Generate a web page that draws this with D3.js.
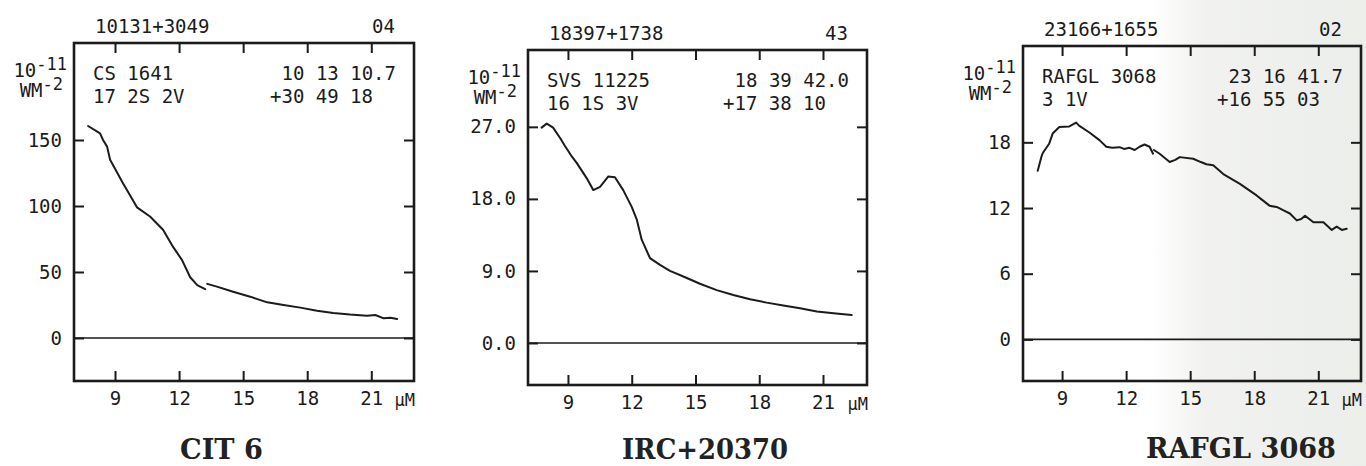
<!DOCTYPE html>
<html>
<head>
<meta charset="utf-8">
<script src="https://cdn.jsdelivr.net/npm/d3@7"></script>
<style>
  html, body { margin: 0; padding: 0; background: #ffffff; }
  svg { display: block; }
</style>
</head>
<body>
<svg id="chart" width="1366" height="466"></svg>
<script>
// ---------------- data ----------------
const titles = ["CIT 6", "IRC+20370", "RAFGL 3068"];
const iraIds = ["10131+3049", "18397+1738", "23166+1655"];
const lrsCodes = ["04", "43", "02"];
const altNames = ["CS 1641", "SVS 11225", "RAFGL 3068"];
const qualLines = ["17 2S 2V", "16 1S 3V", "3 1V"];
const raLabels = ["10 13 10.7", "18 39 42.0", "23 16 41.7"];
const decLabels = ["+30 49 18", "+17 38 10", "+16 55 03"];
const xTickValues = [9, 12, 15, 18, 21];
const xUnit = "\u00b5M";

const yTicksCit6 = [0, 50, 100, 150];
const yTickLabelsCit6 = ["0", "50", "100", "150"];
const yTicksIrc = [0, 9, 18, 27];
const yTickLabelsIrc = ["0.0", "9.0", "18.0", "27.0"];
const yTicksRafgl = [0, 6, 12, 18];
const yTickLabelsRafgl = ["0", "6", "12", "18"];

// wavelength (micron) and flux (1e-11 W m^-2), null = gap in the trace
const cit6Wave = [7.74, 8.30, 8.44, 8.63, 8.77, 9.38, 10.03, 10.64, 11.25, 11.72, 12.14, 12.52, 12.85, 13.22, 13.27,
                  13.32, 13.77, 14.53, 15.33, 16.13, 16.89, 17.68, 18.46, 19.22, 20.00, 20.80, 21.19, 21.58, 21.90, 22.21];
const cit6Flux = [160.6, 155, 150, 145, 135, 117, 99, 92, 82, 69, 59, 46, 40, 37, null,
                  41, 38.9, 35, 31.3, 27, 25, 23, 20.7, 19, 17.8, 16.9, 17.4, 14.9, 15.4, 14.4];

const ircWave = [7.76, 8.0, 8.3, 8.63, 8.86, 9.18, 9.41, 9.88, 10.19, 10.51, 10.90, 11.21, 11.6, 12.0, 12.24, 12.47,
                 12.86, 13.33, 13.8, 14.43, 15.21, 16.0, 16.78, 17.57, 18.35, 19.13, 19.92, 20.71, 21.49, 22.35];
const ircFlux = [26.9, 27.4, 26.9, 25.6, 24.6, 23.3, 22.5, 20.6, 19.1, 19.5, 20.8, 20.7, 19.1, 17.0, 15.4, 12.9,
                 10.6, 9.75, 9.0, 8.3, 7.4, 6.6, 6.0, 5.46, 5.04, 4.67, 4.33, 3.92, 3.71, 3.5];

const rafglWave = [7.86, 8.02, 8.09, 8.40, 8.56, 8.87, 9.34, 9.66, 9.81, 10.28, 10.75, 11.07, 11.35, 11.69, 11.9,
                   12.16, 12.4, 12.63, 12.86, 13.1, 13.26, 13.28, 13.3, 13.57, 14.04, 14.3, 14.51, 15.14, 15.5, 15.76,
                   16.08, 16.55, 17.33, 18.11, 18.4, 18.73, 19.05, 19.35, 19.67, 19.99, 20.2, 20.38, 20.77, 21.24,
                   21.63, 21.86, 22.1, 22.33];
const rafglFlux = [15.4, 16.6, 17.0, 17.9, 18.8, 19.4, 19.45, 19.8, 19.5, 18.9, 18.2, 17.6, 17.5, 17.56, 17.4,
                   17.5, 17.3, 17.6, 17.8, 17.6, 16.96, null, 17.3, 16.96, 16.2, 16.4, 16.65, 16.5, 16.2, 16.0,
                   15.9, 15.1, 14.2, 13.15, 12.7, 12.2, 12.1, 11.8, 11.5, 10.87, 11.0, 11.3, 10.7, 10.7,
                   10.0, 10.3, 10.0, 10.1];

// ---------------- layout ----------------
const panels = [
  { frame: { l: 74, r: 414, t: 43, b: 381 }, xDom: [7.08, 23.0], yDom: [-32.6, 223.5],
    yTicks: yTicksCit6, yLabels: yTickLabelsCit6, wave: cit6Wave, flux: cit6Flux, titleX: 180, titleW: 83, titleY: 459 },
  { frame: { l: 528, r: 867, t: 50, b: 385 }, xDom: [7.12, 23.07], yDom: [-5.25, 36.6],
    yTicks: yTicksIrc, yLabels: yTickLabelsIrc, wave: ircWave, flux: ircFlux, titleX: 622, titleW: 166, titleY: 459 },
  { frame: { l: 1023, r: 1361, t: 46, b: 381 }, xDom: [7.17, 23.0], yDom: [-3.8, 26.8],
    yTicks: yTicksRafgl, yLabels: yTickLabelsRafgl, wave: rafglWave, flux: rafglFlux, titleX: 1146, titleW: 190, titleY: 458 }
];

const ink = "#1b1b1b";
const mono = "'DejaVu Sans Mono', 'Liberation Mono', monospace";
const serif = "'DejaVu Serif', 'Liberation Serif', serif";

const svg = d3.select("#chart");

// faint scan tint on the right edge of the page
const defs = svg.append("defs");
const grad = defs.append("linearGradient").attr("id", "tint").attr("x1", "0").attr("x2", "1");
grad.append("stop").attr("offset", "0").attr("stop-color", "#ffffff");
grad.append("stop").attr("offset", "0.25").attr("stop-color", "#f1f2f0");
grad.append("stop").attr("offset", "1").attr("stop-color", "#eceeea");
svg.append("rect").attr("x", 1150).attr("y", 0).attr("width", 216).attr("height", 466).attr("fill", "url(#tint)");

panels.forEach((p, i) => {
  const f = p.frame;
  const x = d3.scaleLinear().domain(p.xDom).range([f.l, f.r]);
  const y = d3.scaleLinear().domain(p.yDom).range([f.b, f.t]);
  const g = svg.append("g");

  // axes (ticks pointing inward)
  const yFmt = d => p.yLabels[p.yTicks.indexOf(d)];
  const left = g.append("g").attr("transform", `translate(${f.l},0)`)
    .call(d3.axisLeft(y).tickValues(p.yTicks).tickSize(-10).tickPadding(12).tickFormat(yFmt));
  const right = g.append("g").attr("transform", `translate(${f.r},0)`)
    .call(d3.axisRight(y).tickValues(p.yTicks).tickSize(-10).tickFormat(""));
  const top = g.append("g").attr("transform", `translate(0,${f.t})`)
    .call(d3.axisTop(x).tickValues(xTickValues).tickSize(-10).tickFormat(""));
  const bottom = g.append("g").attr("transform", `translate(0,${f.b})`)
    .call(d3.axisBottom(x).tickValues(xTickValues).tickSize(-10).tickPadding(11).tickFormat(d3.format("d")));

  [left, right, top, bottom].forEach(a => {
    a.select(".domain").remove();
    a.selectAll(".tick line").attr("stroke", ink).attr("stroke-width", 2);
    a.selectAll(".tick text").attr("fill", ink).attr("font-family", mono).attr("font-size", 19);
  });

  // zero line
  g.append("line").attr("x1", f.l).attr("x2", f.r).attr("y1", y(0)).attr("y2", y(0))
    .attr("stroke", ink).attr("stroke-width", 1.6);

  // spectrum
  const pts = p.wave.map((w, k) => ({ w: w, v: p.flux[k] }));
  const line = d3.line().defined(d => d.v !== null).x(d => x(d.w)).y(d => y(d.v));
  g.append("path").attr("d", line(pts)).attr("fill", "none").attr("stroke", ink)
    .attr("stroke-width", 2).attr("stroke-linejoin", "round").attr("stroke-linecap", "round");

  // frame
  g.append("rect").attr("x", f.l).attr("y", f.t).attr("width", f.r - f.l).attr("height", f.b - f.t)
    .attr("fill", "none").attr("stroke", ink).attr("stroke-width", 2.6);

  const txt = (tx, ty, s, anchor, size) => g.append("text").attr("x", tx).attr("y", ty)
    .attr("text-anchor", anchor || "start").attr("font-family", mono).attr("font-size", size || 19)
    .attr("fill", ink).text(s);

  // header
  txt(f.l + 21, f.t - 10, iraIds[i]);
  txt(f.r - 19, f.t - 10, lrsCodes[i], "end");

  // inside labels
  txt(f.l + 19, f.t + 37, altNames[i]);
  txt(f.l + 19, f.t + 60, qualLines[i]);
  txt(f.r - 18, f.t + 37, raLabels[i], "end");
  txt(f.r - 41, f.t + 60, decLabels[i], "end");

  // unit label for y
  const u1 = g.append("text").attr("x", f.l - 7).attr("y", f.t + 34).attr("text-anchor", "end")
    .attr("font-family", mono).attr("font-size", 19).attr("fill", ink);
  u1.append("tspan").text("10");
  u1.append("tspan").attr("dy", -7).attr("font-size", 17).text("-11");
  const u2 = g.append("text").attr("x", f.l - 11).attr("y", f.t + 54).attr("text-anchor", "end")
    .attr("font-family", mono).attr("font-size", 19).attr("fill", ink);
  u2.append("tspan").text("WM");
  u2.append("tspan").attr("dy", -7).attr("font-size", 17).text("-2");

  // x unit
  txt(f.r + 1, f.b + 25, xUnit, "end", 17);

  // title
  g.append("text").attr("x", p.titleX).attr("y", p.titleY)
    .attr("font-family", serif).attr("font-weight", "bold").attr("font-size", 27)
    .attr("textLength", p.titleW).attr("lengthAdjust", "spacingAndGlyphs")
    .attr("fill", "#222").text(titles[i]);
});
</script>
</body>
</html>
